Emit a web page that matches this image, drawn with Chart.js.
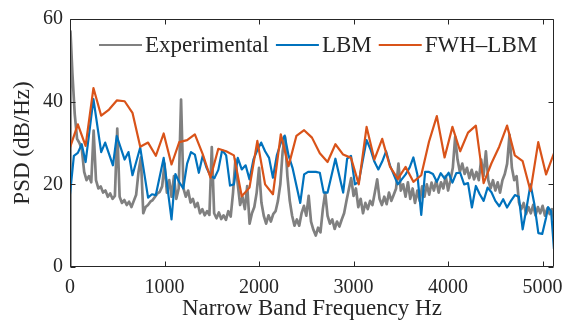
<!DOCTYPE html>
<html>
<head>
<meta charset="utf-8">
<script src="https://cdn.jsdelivr.net/npm/chart.js@4.4.1/dist/chart.umd.min.js"></script>
<style>
  html, body { margin: 0; padding: 0; background: #ffffff; }
  #wrap { width: 572px; height: 327px; position: relative; }
</style>
</head>
<body>
<div id="wrap"><canvas id="c" width="572" height="327"></canvas></div>
<script>
// ---- data ----
const xTicks = [0, 1000, 2000, 3000, 4000, 5000];
const yTicks = [0, 20, 40, 60];

const seriesNames = ['Experimental', 'LBM', 'FWH\u2013LBM'];

const expHz = [0, 5, 25, 50, 75,
  100, 125, 150, 175, 200, 225, 250, 275, 300, 325, 350, 375, 400, 425, 450, 475,
  500, 525, 550, 575, 600, 625, 650, 675, 700, 725, 750, 775, 800, 825, 850, 875,
  900, 925, 950, 975, 1000, 1025, 1050, 1075, 1100, 1125, 1150, 1175, 1200, 1225, 1250, 1275,
  1300, 1325, 1350, 1375, 1400, 1425, 1450, 1475, 1500, 1525, 1550, 1575, 1600, 1625, 1650, 1675,
  1700, 1725, 1750, 1775, 1800, 1825, 1850, 1875, 1900, 1925, 1950, 1975, 2000, 2025, 2050, 2075,
  2100, 2125, 2150, 2175, 2200, 2225, 2250, 2275, 2300, 2325, 2350, 2375, 2400, 2425, 2450, 2475,
  2500, 2525, 2550, 2575, 2600, 2625, 2650, 2675, 2700, 2725, 2750, 2775, 2800, 2825, 2850, 2875,
  2900, 2925, 2950, 2975, 3000, 3025, 3050, 3075, 3100, 3125, 3150, 3175, 3200, 3225, 3250, 3275,
  3300, 3325, 3350, 3375, 3400, 3425, 3450, 3475, 3500, 3525, 3550, 3575, 3600, 3625, 3650, 3675,
  3700, 3725, 3750, 3775, 3800, 3825, 3850, 3875, 3900, 3925, 3950, 3975, 4000, 4025, 4050, 4075,
  4100, 4125, 4150, 4175, 4200, 4225, 4250, 4275, 4300, 4325, 4350, 4375, 4400, 4425, 4450, 4475,
  4500, 4525, 4550, 4575, 4600, 4625, 4650, 4675, 4700, 4725, 4750, 4775, 4800, 4825, 4850, 4875,
  4900, 4925, 4950, 4975, 5000, 5025, 5050, 5075, 5100, 5120];
const expDb = [0, 57, 47, 37, 31,
  30, 28.5, 23, 21, 22, 20.5, 33, 21, 19, 19.5, 18, 18.5, 17, 17.8, 16.5, 17.2,
  33.5, 17, 15.5, 16.2, 15, 15.8, 14.5, 16, 17.5, 23, 26.5, 13, 14.5, 15, 15.8, 16.2,
  17, 17.8, 18.2, 19.5, 25, 18, 21, 17, 22, 16.5, 19, 40.5, 19, 17, 18.5, 15.6,
  16.5, 14.5, 15.5, 13, 14, 12.5, 13.5, 12.6, 29, 13, 11.8, 13.2, 11.6, 12.5, 11.4, 13.5,
  12.2, 18, 26, 20, 15, 17, 14, 19.6, 10.5, 13, 14.5, 18, 24, 15.6, 12.4, 10.5,
  12.5, 11, 12.8, 13.5, 16, 20, 28, 31.5, 22, 16, 12.4, 10, 11.5, 10, 13, 14.8,
  12.4, 17.2, 11, 9, 7.6, 9.5, 8.4, 14, 18, 12.4, 10.5, 11.5, 9.2, 11, 9.8, 11.5,
  13, 16, 18.8, 21.5, 17.2, 19, 14.5, 16.5, 13, 15.5, 14, 16, 15, 18, 21.2, 16.5,
  15, 17, 15.2, 18, 16, 17.5, 19, 25, 18.5, 20, 17, 20.5, 16.5, 19, 15.5, 18.5,
  16, 19.5, 17, 20, 17.5, 20.4, 18.5, 21, 18, 20.5, 19, 22, 18.5, 21, 24, 31.5,
  26, 23, 25, 22.5, 24, 21.5, 23.5, 21.2, 23, 21, 26, 22, 28, 21, 19, 21,
  18.5, 20.5, 18, 21, 22.5, 25, 32, 24, 21, 22, 15.6, 14, 15.5, 12.8, 14.5, 13,
  15, 12.5, 14.5, 13, 14.8, 12.4, 14.2, 12.8, 14, 11.6];

const lbmHz = [0, 41, 83, 124, 165, 248, 330, 372, 454, 495, 578, 619, 661, 743, 826, 867, 908,
  991, 1074, 1115, 1156, 1198, 1239, 1280, 1321, 1363, 1404, 1445, 1486, 1528, 1569, 1610, 1652,
  1693, 1734, 1775, 1817, 1858, 1899, 1941, 1982, 2023, 2064, 2106, 2147, 2188, 2230, 2271, 2312,
  2354, 2436, 2477, 2519, 2601, 2643, 2684, 2725, 2808, 2890, 2932, 2973, 3014, 3055, 3138, 3179,
  3220, 3262, 3303, 3344, 3385, 3468, 3551, 3592, 3633, 3675, 3716, 3757, 3798, 3840, 3881, 3922,
  3963, 4005, 4046, 4087, 4128, 4170, 4211, 4252, 4294, 4335, 4376, 4418, 4459, 4500, 4542, 4583,
  4624, 4665, 4707, 4748, 4789, 4831, 4872, 4913, 4955, 4996, 5037, 5058, 5090, 5120];
const lbmDb = [17.6, 26.9, 27.6, 29.7, 25.4, 40.6, 27.8, 30.1, 24.6, 31.7, 26.0, 27.8, 22.2, 28.9, 16.8, 17.6, 17.4,
  26.4, 11.5, 22.5, 20.5, 19, 25, 27.8, 27.2, 22.8, 26.9, 24, 22.0, 21.5, 23.5, 28.3, 27,
  19.7, 20.0, 26.4, 23.6, 24.6, 21.2, 26.0, 28.3, 30.1, 28.0, 26.4, 21.6, 27.0, 30.0, 31.8, 27,
  24.0, 15.5, 22.4, 23.0, 23.0, 22.8, 18.0, 18.0, 26.2, 18.0, 26.2, 26.9, 20.0, 20.6, 30.7, 28.5,
  25.5, 23.6, 25.5, 28.0, 24.6, 20.0, 22.4, 24, 26.5, 22.4, 12.6, 23.0, 23.0, 22.5, 20.6, 22.7,
  21.4, 22.8, 20.4, 22.7, 22.8, 20.0, 20.3, 14.4, 19.6, 17.6, 16.0, 19.2, 18.1, 16, 14.7, 16.4,
  14.4, 16.0, 17.4, 17, 9.1, 14.4, 20.0, 15.2, 8.2, 8.0, 12, 14.5, 13.5, 4.4];

const fwhHz = [0, 83, 165, 248, 330, 413, 495, 578, 661, 743, 826, 908, 991, 1074, 1156, 1239,
  1321, 1404, 1486, 1569, 1652, 1734, 1817, 1899, 1982, 2064, 2147, 2230, 2312, 2395, 2477, 2560,
  2643, 2725, 2808, 2890, 2973, 3055, 3138, 3220, 3303, 3385, 3468, 3551, 3633, 3716, 3798, 3881,
  3963, 4046, 4128, 4211, 4294, 4376, 4459, 4541, 4624, 4706, 4789, 4872, 4954, 5037, 5120];
const fwhDb = [28.9, 34.5, 29.3, 43.3, 36.6, 38.1, 40.3, 40.1, 37.3, 29.1, 30.1, 26.9, 32.3, 24.8, 30.2, 30.7,
  32.1, 27.3, 21.6, 28.6, 28.0, 27.0, 17.1, 19.2, 30.5, 20.0, 17.6, 32.1, 24.4, 31.7, 33.1, 31.3,
  27.5, 25.4, 29.7, 27.2, 26.4, 20.0, 33.9, 26.0, 31.0, 24.3, 21.3, 24.2, 20.6, 22.2, 30.3, 36.5,
  26.5, 33.9, 28.0, 32.5, 34.2, 20.3, 25.1, 29.1, 34.2, 27.0, 25.6, 18.4, 30.2, 22.4, 27.5];

// ---- styling ----
const AX = '#262626';
const colors = ['#808080', '#0072BD', '#D95319'];
const FONT = "'Liberation Serif', 'Times New Roman', serif";

function pts(xs, ys) { return xs.map((x, i) => ({ x: x, y: ys[i] })); }

const boxPlugin = {
  id: 'boxTicks',
  afterDatasetsDraw(chart) {
    const { ctx, chartArea: a, scales } = chart;
    const xs = scales.x, ys = scales.y;
    ctx.save();
    ctx.strokeStyle = AX;
    ctx.lineWidth = 1;
    const L = Math.round(a.left) + 0.5, R = Math.round(a.right) - 0.5;
    const T = Math.round(a.top) + 0.5, B = Math.round(a.bottom) - 0.5;
    ctx.beginPath();
    ctx.rect(L, T, R - L, B - T);
    const tl = 5;
    xTicks.forEach(v => {
      const px = Math.round(xs.getPixelForValue(v)) + 0.5;
      ctx.moveTo(px, B); ctx.lineTo(px, B - tl);
      ctx.moveTo(px, T); ctx.lineTo(px, T + tl);
    });
    yTicks.forEach(v => {
      const py = Math.round(ys.getPixelForValue(v)) + 0.5;
      ctx.moveTo(L, py); ctx.lineTo(L + tl, py);
      ctx.moveTo(R, py); ctx.lineTo(R - tl, py);
    });
    ctx.stroke();
    ctx.restore();
  }
};

const legendPlugin = {
  id: 'inLegend',
  afterDraw(chart) {
    const ctx = chart.ctx;
    ctx.save();
    ctx.font = '23px ' + FONT;
    ctx.textBaseline = 'middle';
    ctx.textAlign = 'left';
    let x = 99;
    const y = 45, lineLen = 43, gapText = 3, gapItem = 7;
    chart.data.datasets.forEach(ds => {
      ctx.strokeStyle = ds.borderColor;
      ctx.lineWidth = 2.2;
      ctx.beginPath();
      ctx.moveTo(x, y); ctx.lineTo(x + lineLen, y);
      ctx.stroke();
      x += lineLen + gapText;
      ctx.fillStyle = AX;
      ctx.fillText(ds.label, x, y + 1);
      x += ctx.measureText(ds.label).width + gapItem;
    });
    ctx.restore();
  }
};

new Chart(document.getElementById('c'), {
  type: 'line',
  data: {
    datasets: [
      { label: seriesNames[0], data: pts(expHz, expDb), borderColor: colors[0], borderWidth: 2.7, order: 3 },
      { label: seriesNames[1], data: pts(lbmHz, lbmDb), borderColor: colors[1], borderWidth: 2.2, order: 2 },
      { label: seriesNames[2], data: pts(fwhHz, fwhDb), borderColor: colors[2], borderWidth: 2.2, order: 1 }
    ]
  },
  options: {
    responsive: false,
    animation: false,
    devicePixelRatio: 1,
    elements: { point: { radius: 0 }, line: { tension: 0, borderJoinStyle: 'round', borderCapStyle: 'round' } },
    layout: { padding: { top: 17, right: 17, left: 0, bottom: 0 } },
    plugins: { legend: { display: false }, tooltip: { enabled: false } },
    scales: {
      x: {
        type: 'linear', min: 0, max: 5120,
        afterFit(s) { s.height = 60; },
        afterBuildTicks(s) { s.ticks = xTicks.map(v => ({ value: v })); },
        grid: { display: false, drawTicks: false },
        border: { display: false },
        ticks: { color: AX, font: { family: FONT, size: 20 }, padding: 9, maxRotation: 0,
                 callback: v => String(v) },
        title: { display: true, text: 'Narrow Band Frequency Hz', color: AX,
                 font: { family: FONT, size: 23 }, padding: { top: 0, bottom: 4 } }
      },
      y: {
        type: 'linear', min: 0, max: 60,
        afterFit(s) { s.width = 70; },
        afterBuildTicks(s) { s.ticks = yTicks.map(v => ({ value: v })); },
        grid: { display: false, drawTicks: false },
        border: { display: false },
        ticks: { color: AX, font: { family: FONT, size: 20 }, padding: 7,
                 callback: v => String(v) },
        title: { display: true, text: 'PSD (dB/Hz)', color: AX,
                 font: { family: FONT, size: 23 }, padding: { top: 9, bottom: 0 } }
      }
    }
  },
  plugins: [boxPlugin, legendPlugin]
});
</script>
</body>
</html>
